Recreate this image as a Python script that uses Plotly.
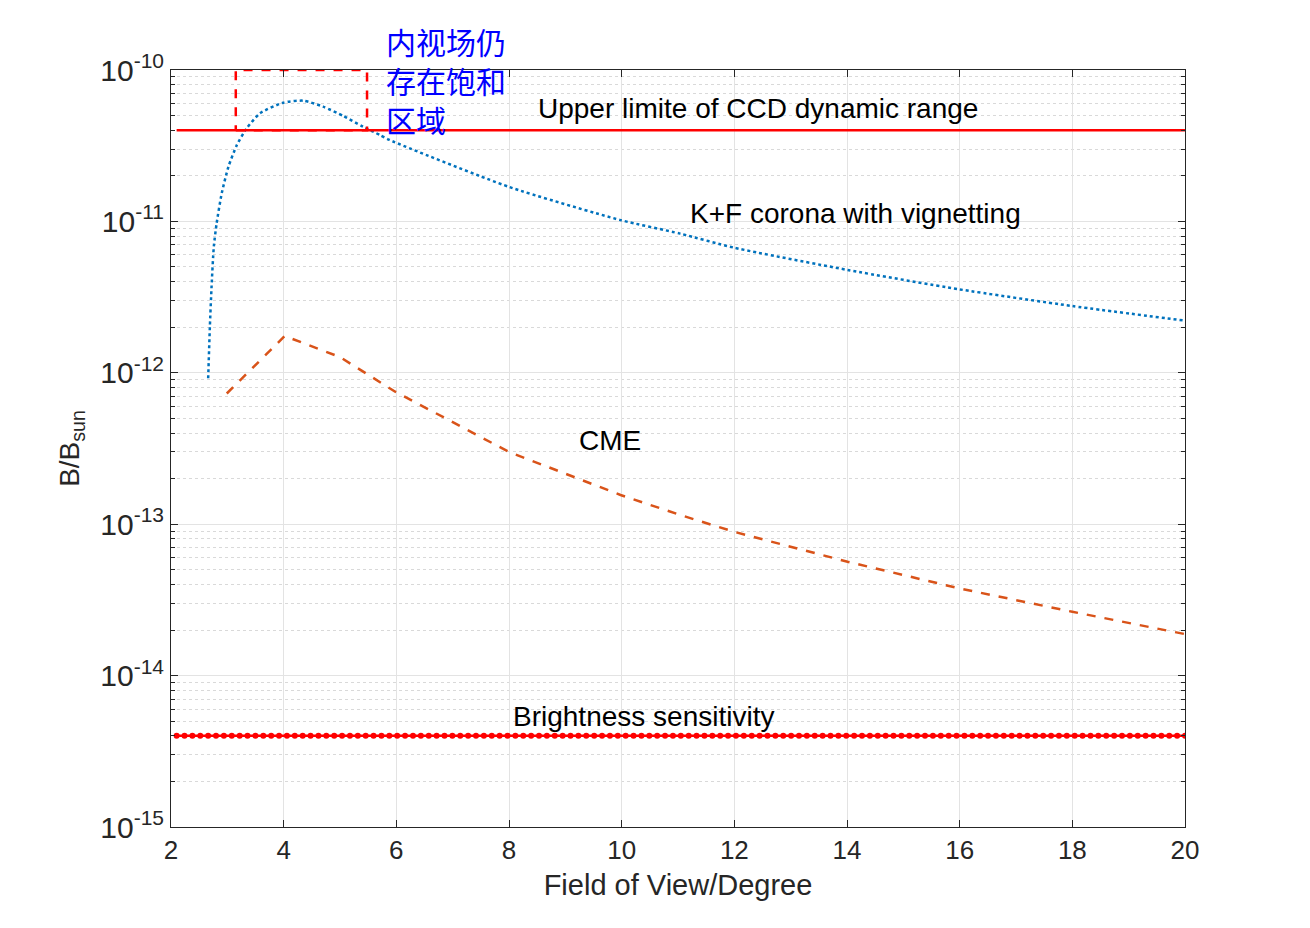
import numpy as np
import plotly.graph_objects as go

# ---- data ----
kf_x = [2.66, 2.69, 2.72, 2.76, 2.81, 2.90, 3.02, 3.17, 3.34, 3.58, 3.99, 4.35, 4.70, 5.06, 5.41,
        5.71, 5.88, 8.0, 9.98, 11.04, 12.0, 14.01, 15.99, 18.0, 20.0]
kf_y = [9.2e-13, 2.02e-12, 3.7e-12, 6.8e-12, 9.7e-12, 1.53e-11, 2.3e-11, 3.2e-11, 4.1e-11, 5.18e-11,
        6.08e-11, 6.27e-11, 5.73e-11, 4.97e-11, 4.22e-11, 3.72e-11, 3.45e-11, 1.69e-11, 1.02e-11,
        8.3e-12, 6.7e-12, 4.78e-12, 3.56e-12, 2.76e-12, 2.21e-12]

cme_x = [2.99, 4.02, 5.0, 5.41, 5.71, 5.98, 8.0, 9.98, 11.04, 12.0, 14.01, 15.99, 18.0, 20.0]
cme_y = [7.3e-13, 1.75e-12, 1.27e-12, 1.02e-12, 8.7e-13, 7.5e-13, 3.0e-13, 1.56e-13, 1.15e-13,
         8.9e-14, 5.65e-14, 3.77e-14, 2.64e-14, 1.88e-14]

upper_x = [2.1, 20.0]
upper_y = [4e-11, 4e-11]

sens_level = 4e-15
sens_x = list(np.linspace(2.1, 20.0, 129))
sens_y = [sens_level] * len(sens_x)

box_x = [3.15, 5.48, 5.48, 3.15, 3.15]
box_y = [4e-11, 4e-11, 1e-10, 1e-10, 4e-11]

ytick_vals = [1e-15, 1e-14, 1e-13, 1e-12, 1e-11, 1e-10]
ytick_text = ["10<sup>-15</sup>", "10<sup>-14</sup>", "10<sup>-13</sup>",
              "10<sup>-12</sup>", "10<sup>-11</sup>", "10<sup>-10</sup>"]
xtick_vals = [2, 4, 6, 8, 10, 12, 14, 16, 18, 20]

FONT = "Liberation Sans, Arial, Helvetica, sans-serif"
TXT = "#262626"

fig = go.Figure()
fig.add_trace(go.Scatter(x=kf_x, y=kf_y, mode="lines", line=dict(color="#0072BD", width=2.5, dash="dot", shape="spline", smoothing=0.6)))
fig.add_trace(go.Scatter(x=cme_x, y=cme_y, mode="lines", line=dict(color="#D95319", width=2.5, dash="dash")))
fig.add_trace(go.Scatter(x=upper_x, y=upper_y, mode="lines", line=dict(color="#FF0000", width=2.5)))
fig.add_trace(go.Scatter(x=sens_x, y=sens_y, mode="lines+markers", line=dict(color="#FF0000", width=2.5),
                         marker=dict(color="#FF0000", size=6)))
fig.add_trace(go.Scatter(x=box_x, y=box_y, mode="lines", line=dict(color="#FF0000", width=2.5, dash="dash")))

# minor log grid values
minor_vals = [m * 10.0 ** e for e in range(-15, -10) for m in range(2, 10)]

fig.update_layout(
    width=1294, height=912,
    margin=dict(l=163, r=117, t=62, b=93),
    paper_bgcolor="white", plot_bgcolor="white",
    showlegend=False,
    font=dict(family=FONT, color=TXT),
    xaxis=dict(
        range=[2, 20], tickmode="array", tickvals=xtick_vals,
        ticks="inside", ticklen=7, tickcolor="#262626", tickwidth=1,
        showline=True, linecolor="#262626", linewidth=1, mirror="ticks",
        showgrid=True, gridcolor="#E3E3E3", gridwidth=1, zeroline=False,
        tickfont=dict(size=26, color=TXT, family=FONT),
        title=dict(text="Field of View/Degree", font=dict(size=29, color=TXT, family=FONT), standoff=10),
    ),
    yaxis=dict(
        type="log", range=[-15, -10], tickmode="array", tickvals=ytick_vals, ticktext=ytick_text,
        ticks="inside", ticklen=7, tickcolor="#262626", tickwidth=1,
        showline=True, linecolor="#262626", linewidth=1, mirror="ticks",
        showgrid=True, gridcolor="#E3E3E3", gridwidth=1, zeroline=False,
        tickfont=dict(size=30, color=TXT, family=FONT),
        minor=dict(tickmode="array", tickvals=minor_vals, ticks="inside", ticklen=4, tickcolor="#262626",
                   showgrid=True, gridcolor="#D9D9D9", griddash="dot", gridwidth=1),
        title=dict(text="B/B<sub>sun</sub>", font=dict(size=28, color=TXT, family=FONT), standoff=12),
    ),
)

ann_font = dict(size=28, color="black", family=FONT)
fig.add_annotation(x=12.42, y=0.9485, xref="x", yref="paper", text="Upper limite of CCD dynamic range",
                   showarrow=False, xanchor="center", yanchor="middle", font=ann_font)
fig.add_annotation(x=11.18, y=0.811, xref="x", yref="paper", text="K+F corona with vignetting",
                   showarrow=False, xanchor="left", yanchor="middle", font=ann_font)
fig.add_annotation(x=9.21, y=0.51, xref="x", yref="paper", text="CME",
                   showarrow=False, xanchor="left", yanchor="middle", font=ann_font)
fig.add_annotation(x=8.04, y=0.1466, xref="x", yref="paper", text="Brightness sensitivity",
                   showarrow=False, xanchor="left", yanchor="middle", font=ann_font)

cjk_font = dict(size=30, color="#0000FF", family="Noto Sans CJK SC")
fig.add_annotation(x=5.78, y=(827 - 80) / 757, xref="x", yref="paper",
                   text="内视场仍<br>存在饱和<br>区域", align="left",
                   showarrow=False, xanchor="left", yanchor="middle", font=cjk_font)

fig.write_html("out.html")
